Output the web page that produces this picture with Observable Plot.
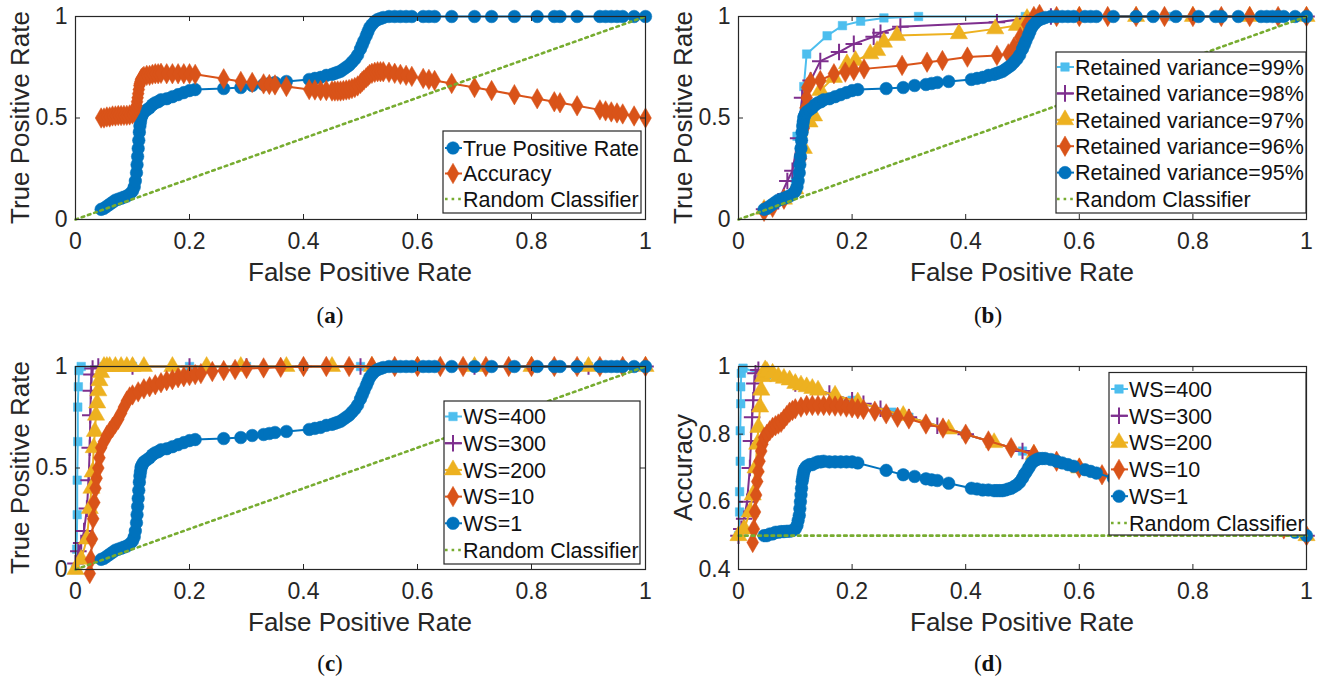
<!DOCTYPE html>
<html>
<head>
<meta charset="utf-8">
<script src="https://cdn.jsdelivr.net/npm/d3@7"></script>
<script src="https://cdn.jsdelivr.net/npm/@observablehq/plot@0.6"></script>
<style>
  html, body { margin: 0; padding: 0; background: #fff; }
  #root { position: relative; width: 1317px; height: 679px; overflow: hidden; }
  .panel { position: absolute; }
  .cap { position: absolute; font-family: "Liberation Serif", "DejaVu Serif", serif; font-size: 23px; color: #111; transform: translate(-50%, -50%); }
  .cap b { font-weight: bold; }
</style>
</head>
<body>
<div id="root"></div>
<script>
// ---------- tick labels ----------
const xTickVals = [0, 0.2, 0.4, 0.6, 0.8, 1];
const yTicksROC = [0, 0.5, 1];
const yTicksAcc = [0.4, 0.6, 0.8, 1];

// ---------- WS=1 / 95% ROC (FPR, TPR) ----------
const rocWS1 = [[0.045,0.05],[0.05,0.055],[0.055,0.065],[0.06,0.075],[0.065,0.085],[0.07,0.095],[0.075,0.1],[0.08,0.105],[0.085,0.11],[0.09,0.115],[0.095,0.125],[0.1,0.14],[0.103,0.16],[0.105,0.19],[0.107,0.23],[0.108,0.27],[0.109,0.31],[0.11,0.35],[0.111,0.39],[0.112,0.43],[0.113,0.46],[0.114,0.48],[0.115,0.5],[0.116,0.51],[0.118,0.52],[0.12,0.53],[0.125,0.54],[0.13,0.55],[0.135,0.565],[0.14,0.575],[0.145,0.58],[0.15,0.59],[0.16,0.595],[0.17,0.605],[0.18,0.615],[0.19,0.625],[0.2,0.635],[0.21,0.64],[0.26,0.645],[0.29,0.65],[0.31,0.66],[0.33,0.665],[0.34,0.67],[0.35,0.675],[0.37,0.68],[0.41,0.69],[0.42,0.695],[0.43,0.7],[0.44,0.71],[0.45,0.715],[0.455,0.72],[0.46,0.725],[0.465,0.73],[0.47,0.74],[0.475,0.75],[0.48,0.76],[0.485,0.775],[0.49,0.79],[0.495,0.81],[0.5,0.84],[0.503,0.86],[0.506,0.88],[0.51,0.905],[0.513,0.925],[0.516,0.945],[0.52,0.96],[0.525,0.975],[0.53,0.985],[0.535,0.99],[0.54,0.995],[0.55,1],[0.56,1],[0.57,1],[0.58,1],[0.59,1],[0.61,1],[0.62,1],[0.63,1],[0.66,1],[0.7,1],[0.73,1],[0.77,1],[0.81,1],[0.84,1],[0.85,1],[0.88,1],[0.92,1],[0.93,1],[0.94,1],[0.95,1],[0.96,1],[0.98,1],[1,1]];

// ---------- WS=1 accuracy (FPR, accuracy) ----------
const accWS1 = [[0.045,0.5],[0.05,0.5],[0.055,0.505],[0.06,0.505],[0.065,0.51],[0.07,0.51],[0.075,0.512],[0.08,0.512],[0.085,0.513],[0.09,0.513],[0.095,0.515],[0.1,0.52],[0.103,0.53],[0.105,0.545],[0.107,0.56],[0.108,0.58],[0.109,0.6],[0.11,0.62],[0.111,0.64],[0.112,0.66],[0.113,0.67],[0.114,0.68],[0.115,0.69],[0.116,0.695],[0.118,0.7],[0.12,0.705],[0.125,0.71],[0.13,0.71],[0.135,0.715],[0.14,0.718],[0.145,0.718],[0.15,0.72],[0.16,0.718],[0.17,0.718],[0.18,0.718],[0.19,0.718],[0.2,0.718],[0.21,0.715],[0.26,0.693],[0.29,0.68],[0.31,0.675],[0.33,0.668],[0.34,0.665],[0.35,0.663],[0.37,0.655],[0.41,0.64],[0.42,0.638],[0.43,0.635],[0.44,0.635],[0.45,0.633],[0.455,0.633],[0.46,0.633],[0.465,0.633],[0.47,0.635],[0.475,0.638],[0.48,0.64],[0.485,0.645],[0.49,0.65],[0.495,0.658],[0.5,0.67],[0.503,0.68],[0.506,0.687],[0.51,0.698],[0.513,0.706],[0.516,0.715],[0.52,0.72],[0.525,0.725],[0.53,0.728],[0.535,0.728],[0.54,0.728],[0.55,0.725],[0.56,0.72],[0.57,0.715],[0.58,0.71],[0.59,0.705],[0.61,0.695],[0.62,0.69],[0.63,0.685],[0.66,0.67],[0.7,0.65],[0.73,0.635],[0.77,0.615],[0.81,0.595],[0.84,0.58],[0.85,0.575],[0.88,0.56],[0.92,0.54],[0.93,0.535],[0.94,0.53],[0.95,0.525],[0.96,0.52],[0.98,0.51],[1,0.5]];

// ---------- (b) retained variance ROC ----------
const rv99 = [[0.045,0.05],[0.07,0.09],[0.09,0.12],[0.1,0.2],[0.103,0.41],[0.115,0.655],[0.12,0.815],[0.156,0.905],[0.183,0.955],[0.215,0.977],[0.256,0.993],[0.317,1],[0.505,1],[0.6,1],[0.7,1],[0.76,1],[0.85,1],[0.92,1],[1,1]];
const rv98 = [[0.045,0.05],[0.07,0.09],[0.086,0.19],[0.095,0.24],[0.105,0.4],[0.112,0.6],[0.127,0.685],[0.144,0.78],[0.177,0.825],[0.203,0.865],[0.238,0.9],[0.25,0.92],[0.285,0.95],[0.455,0.972],[0.508,0.99],[0.55,1],[0.65,1],[0.75,1],[0.85,1],[1,1]];
const rv97 = [[0.045,0.05],[0.08,0.1],[0.1,0.15],[0.115,0.35],[0.125,0.48],[0.133,0.51],[0.144,0.635],[0.168,0.7],[0.191,0.767],[0.206,0.783],[0.232,0.816],[0.244,0.832],[0.256,0.873],[0.279,0.906],[0.388,0.915],[0.452,0.939],[0.49,0.956],[0.508,0.99],[0.53,1],[0.6,1],[0.7,1],[0.8,1],[0.9,1],[1,1]];
const rv96 = [[0.045,0.04],[0.06,0.06],[0.08,0.1],[0.1,0.15],[0.11,0.3],[0.115,0.45],[0.118,0.55],[0.12,0.6],[0.121,0.65],[0.127,0.677],[0.144,0.685],[0.168,0.718],[0.188,0.726],[0.203,0.734],[0.221,0.742],[0.288,0.759],[0.332,0.775],[0.359,0.783],[0.403,0.8],[0.455,0.808],[0.475,0.816],[0.485,0.849],[0.496,0.898],[0.508,0.96],[0.52,1],[0.53,1.01],[0.56,1],[0.6,1],[0.65,1],[0.7,1],[0.75,1],[0.8,1],[0.85,1],[0.9,1],[0.95,1],[1,1]];

// ---------- (c) window size ROC ----------
const ws400 = [[0,0],[0.002,0.1],[0.003,0.27],[0.003,0.44],[0.004,0.63],[0.004,0.8],[0.005,0.9],[0.006,0.98],[0.01,1],[0.05,1],[0.1,1],[0.2,1],[0.3,1],[0.4,1],[0.5,1],[0.6,1],[0.7,1],[0.8,1],[0.9,1],[1,1]];
const ws300 = [[0,0.03],[0.005,0.09],[0.01,0.13],[0.015,0.19],[0.02,0.3],[0.023,0.44],[0.025,0.6],[0.026,0.76],[0.027,0.88],[0.028,0.96],[0.03,0.99],[0.04,1],[0.1,1],[0.2,1],[0.3,1],[0.4,1],[0.5,1],[0.6,1],[0.7,1],[0.8,1],[0.9,1],[1,1]];
const ws200 = [[0,0],[0.01,0.05],[0.02,0.15],[0.025,0.3],[0.028,0.4],[0.03,0.48],[0.032,0.6],[0.034,0.68],[0.036,0.76],[0.038,0.82],[0.04,0.88],[0.042,0.93],[0.045,0.97],[0.05,1],[0.055,1],[0.06,1],[0.07,1],[0.08,1],[0.09,1],[0.1,1],[0.12,1],[0.17,1],[0.23,1],[0.29,1],[0.37,1],[0.45,1],[0.52,1],[0.6,1],[0.7,1],[0.8,1],[0.9,1],[1,1]];
const ws10 = [[0.025,-0.02],[0.027,0.05],[0.029,0.15],[0.031,0.25],[0.033,0.33],[0.035,0.4],[0.037,0.45],[0.04,0.5],[0.042,0.55],[0.045,0.6],[0.05,0.63],[0.055,0.66],[0.06,0.68],[0.065,0.7],[0.07,0.72],[0.075,0.74],[0.08,0.77],[0.085,0.8],[0.09,0.83],[0.095,0.85],[0.1,0.86],[0.11,0.875],[0.12,0.89],[0.13,0.9],[0.14,0.91],[0.15,0.92],[0.16,0.93],[0.17,0.935],[0.18,0.945],[0.19,0.95],[0.2,0.955],[0.21,0.96],[0.22,0.965],[0.24,0.975],[0.26,0.98],[0.28,0.985],[0.3,0.99],[0.33,0.993],[0.36,0.996],[0.4,1],[0.44,1],[0.48,1],[0.52,1],[0.56,1],[0.6,1],[0.64,1],[0.68,1],[0.72,1],[0.76,1],[0.8,1],[0.84,1],[0.88,1],[0.92,1],[0.96,1],[1,1]];

// ---------- (d) window size accuracy ----------
const acc400 = [[0,0.5],[0.002,0.57],[0.002,0.63],[0.003,0.72],[0.003,0.81],[0.004,0.89],[0.004,0.94],[0.005,0.98],[0.008,0.995],[0.05,0.975],[0.1,0.95],[0.2,0.9],[0.27,0.865],[0.3,0.85],[0.4,0.8],[0.5,0.75],[0.6,0.7],[0.7,0.65],[0.8,0.6],[0.9,0.55],[1,0.5]];
const acc300 = [[0,0.5],[0.005,0.52],[0.01,0.55],[0.015,0.6],[0.02,0.7],[0.022,0.78],[0.024,0.85],[0.026,0.9],[0.028,0.95],[0.03,0.98],[0.035,0.99],[0.1,0.95],[0.16,0.92],[0.2,0.9],[0.22,0.89],[0.25,0.875],[0.3,0.85],[0.35,0.825],[0.4,0.8],[0.5,0.75],[0.6,0.7],[0.7,0.65],[0.8,0.6],[0.9,0.55],[1,0.5]];
const acc200 = [[0,0.5],[0.01,0.52],[0.02,0.57],[0.025,0.62],[0.03,0.7],[0.033,0.77],[0.035,0.82],[0.038,0.88],[0.04,0.93],[0.043,0.97],[0.047,0.99],[0.05,0.985],[0.06,0.98],[0.07,0.97],[0.08,0.965],[0.09,0.96],[0.1,0.95],[0.11,0.945],[0.12,0.94],[0.13,0.935],[0.14,0.93],[0.17,0.915],[0.21,0.895],[0.29,0.855],[0.37,0.815],[0.45,0.775],[0.52,0.74],[0.6,0.7],[0.7,0.65],[0.8,0.6],[0.9,0.55],[1,0.5]];
const acc10 = [[0.025,0.48],[0.027,0.52],[0.029,0.57],[0.031,0.62],[0.033,0.66],[0.035,0.69],[0.037,0.72],[0.04,0.75],[0.042,0.77],[0.045,0.79],[0.05,0.8],[0.055,0.81],[0.06,0.82],[0.065,0.825],[0.07,0.83],[0.075,0.835],[0.08,0.845],[0.085,0.855],[0.09,0.865],[0.095,0.87],[0.1,0.875],[0.11,0.88],[0.12,0.885],[0.13,0.885],[0.14,0.885],[0.15,0.885],[0.16,0.885],[0.17,0.883],[0.18,0.883],[0.19,0.88],[0.2,0.878],[0.21,0.875],[0.22,0.873],[0.24,0.868],[0.26,0.86],[0.28,0.85],[0.3,0.845],[0.33,0.83],[0.36,0.818],[0.4,0.8],[0.44,0.78],[0.48,0.76],[0.52,0.74],[0.56,0.72],[0.6,0.7],[0.64,0.68],[0.68,0.66],[0.72,0.64],[0.76,0.62],[0.8,0.6],[0.84,0.58],[0.88,0.56],[0.92,0.54],[0.96,0.52],[1,0.5]];

// ---------- chance lines ----------
const randomROC = [[0,0],[1,1]];
const randomAcc = [[0,0.5],[1,0.5]];

// ---------- legend labels ----------
const labelsA = ["True Positive Rate", "Accuracy", "Random Classifier"];
const labelsB = ["Retained variance=99%", "Retained variance=98%", "Retained variance=97%", "Retained variance=96%", "Retained variance=95%", "Random Classifier"];
const labelsWS = ["WS=400", "WS=300", "WS=200", "WS=10", "WS=1", "Random Classifier"];

// ---------- styles ----------
const C = {blue:"#0072BD", orange:"#D95319", yellow:"#EDB120", purple:"#7E2F8E", green:"#77AC30", cyan:"#4DBEEE"};
const ST = {
  circle:   {color: C.blue,   symbol: "circle",   r: 6.3},
  diamond:  {color: C.orange, symbol: "diamond",  r: 6.2},
  triangle: {color: C.yellow, symbol: "triangle", r: 6.4},
  plus:     {color: C.purple, symbol: "plus",     r: 5.4},
  square:   {color: C.cyan,   symbol: "square",   r: 4.8},
};
const d3Sym = {circle: d3.symbolCircle, diamond: d3.symbolDiamond, triangle: d3.symbolTriangle, plus: d3.symbolPlus, square: d3.symbolSquare};
const FONT = "'Liberation Sans', Arial, Helvetica, sans-serif";
const AXC = "#262626";
const DASH = "2.6 4";

function panel(cfg) {
  const {left, top, width, height, mL, mR, mT, mB, yDomain, yTicks, yLabel, series, chance, legend, caption} = cfg;
  const plotW = width - mL - mR, plotH = height - mT - mB;
  const marks = [];
  for (const s of series) {
    const st = ST[s.style];
    marks.push(Plot.line(s.data, {x: d => d[0], y: d => d[1], stroke: st.color, strokeWidth: 2}));
    if (st.symbol === "plus") {
      marks.push(Plot.dot(s.data, {x: d => d[0], y: d => d[1], symbol: "plus", stroke: st.color, strokeWidth: 2, fill: "none", r: st.r}));
    } else {
      marks.push(Plot.dot(s.data, {x: d => d[0], y: d => d[1], symbol: st.symbol, fill: st.color, stroke: st.color, strokeWidth: 0.5, r: st.r}));
    }
  }
  marks.push(Plot.line(chance, {x: d => d[0], y: d => d[1], stroke: C.green, strokeWidth: 2.6, strokeDasharray: DASH}));
  // inward ticks on all four sides (MATLAB box style)
  marks.push(Plot.tickX(xTickVals, {x: d => d, stroke: AXC, insetTop: plotH - 5}));
  marks.push(Plot.tickX(xTickVals, {x: d => d, stroke: AXC, insetBottom: plotH - 5}));
  marks.push(Plot.tickY(yTicks, {y: d => d, stroke: AXC, insetLeft: plotW - 5}));
  marks.push(Plot.tickY(yTicks, {y: d => d, stroke: AXC, insetRight: plotW - 5}));
  marks.push(Plot.frame({stroke: AXC, strokeWidth: 1.2}));

  const svg = Plot.plot({
    width, height, marginLeft: mL, marginRight: mR, marginTop: mT, marginBottom: mB,
    style: {fontFamily: FONT, fontSize: "23px", color: AXC, background: "transparent", overflow: "visible"},
    x: {domain: [0, 1], ticks: xTickVals, tickSize: 0, tickPadding: 13, tickFormat: d => String(d), label: null},
    y: {domain: yDomain, ticks: yTicks, tickSize: 0, tickPadding: 8, tickFormat: d => String(d), label: null},
    marks
  });

  const g = d3.select(svg).append("g").attr("font-family", FONT).attr("fill", AXC);
  // axis titles
  g.append("text").attr("x", mL + plotW / 2).attr("y", mT + plotH + 53)
    .attr("text-anchor", "middle").attr("dy", "0.36em").attr("font-size", 26).text("False Positive Rate");
  g.append("text").attr("transform", `translate(${mL - 55},${mT + plotH / 2}) rotate(-90)`)
    .attr("text-anchor", "middle").attr("dy", "0.36em").attr("font-size", 26).text(yLabel);

  // legend
  const L = legend;
  const lg = d3.select(svg).append("g");
  lg.append("rect").attr("x", L.x).attr("y", L.y).attr("width", L.w).attr("height", L.h)
    .attr("fill", "#fff").attr("stroke", AXC).attr("stroke-width", 1.2);
  L.items.forEach((it, i) => {
    const cy = L.y0 + i * L.dy;
    if (it.style === "dotted") {
      lg.append("line").attr("x1", L.mx - 8).attr("x2", L.mx + 9).attr("y1", cy).attr("y2", cy)
        .attr("stroke", C.green).attr("stroke-width", 2.6).attr("stroke-dasharray", DASH);
    } else {
      const st = ST[it.style];
      lg.append("line").attr("x1", L.mx - 8).attr("x2", L.mx + 9).attr("y1", cy).attr("y2", cy)
        .attr("stroke", st.color).attr("stroke-width", 2);
      const p = d3.symbol(d3Sym[st.symbol], Math.PI * st.r * st.r)();
      const path = lg.append("path").attr("d", p).attr("transform", `translate(${L.mx},${cy})`);
      if (st.symbol === "plus") path.attr("fill", "none").attr("stroke", st.color).attr("stroke-width", 2);
      else path.attr("fill", st.color).attr("stroke", st.color).attr("stroke-width", 0.5);
    }
    lg.append("text").attr("x", L.tx).attr("y", cy).attr("dy", "0.36em").attr("text-anchor", "start")
      .attr("font-family", FONT).attr("font-size", 21.5).attr("fill", "#111").text(it.label);
  });

  const div = document.createElement("div");
  div.className = "panel";
  div.style.left = left + "px";
  div.style.top = top + "px";
  div.appendChild(svg);
  document.getElementById("root").appendChild(div);

  const cap = document.createElement("div");
  cap.className = "cap";
  cap.style.left = caption.x + "px";
  cap.style.top = caption.y + "px";
  cap.innerHTML = `(<b>${caption.t}</b>)`;
  document.getElementById("root").appendChild(cap);
}

const leftGeom = {width: 660, height: 300, mL: 75, mR: 15, mT: 16, mB: 81};
const rightGeom = {width: 657, height: 300, mL: 78, mR: 11, mT: 16, mB: 81};

panel({
  left: 0, top: 0, ...leftGeom, yDomain: [0, 1], yTicks: yTicksROC, yLabel: "True Positive Rate",
  series: [{data: rocWS1, style: "circle"}, {data: accWS1, style: "diamond"}],
  chance: randomROC,
  legend: {x: 443, y: 131, w: 198, h: 82, y0: 148, dy: 25.5, mx: 453, tx: 463,
    items: [{label: labelsA[0], style: "circle"}, {label: labelsA[1], style: "diamond"}, {label: labelsA[2], style: "dotted"}]},
  caption: {x: 330, y: 316, t: "a"}
});

panel({
  left: 660, top: 0, ...rightGeom, yDomain: [0, 1], yTicks: yTicksROC, yLabel: "True Positive Rate",
  series: [{data: rv99, style: "square"}, {data: rv98, style: "plus"}, {data: rv97, style: "triangle"}, {data: rv96, style: "diamond"}, {data: rocWS1, style: "circle"}],
  chance: randomROC,
  legend: {x: 396, y: 52, w: 250, h: 161, y0: 67, dy: 26.4, mx: 405, tx: 415,
    items: [{label: labelsB[0], style: "square"}, {label: labelsB[1], style: "plus"}, {label: labelsB[2], style: "triangle"}, {label: labelsB[3], style: "diamond"}, {label: labelsB[4], style: "circle"}, {label: labelsB[5], style: "dotted"}]},
  caption: {x: 988, y: 316, t: "b"}
});

panel({
  left: 0, top: 350, ...leftGeom, yDomain: [0, 1], yTicks: yTicksROC, yLabel: "True Positive Rate",
  series: [{data: ws400, style: "square"}, {data: ws300, style: "plus"}, {data: ws200, style: "triangle"}, {data: ws10, style: "diamond"}, {data: rocWS1, style: "circle"}],
  chance: randomROC,
  legend: {x: 444, y: 51, w: 196, h: 163, y0: 66.5, dy: 26.7, mx: 453, tx: 463,
    items: [{label: labelsWS[0], style: "square"}, {label: labelsWS[1], style: "plus"}, {label: labelsWS[2], style: "triangle"}, {label: labelsWS[3], style: "diamond"}, {label: labelsWS[4], style: "circle"}, {label: labelsWS[5], style: "dotted"}]},
  caption: {x: 330, y: 664, t: "c"}
});

panel({
  left: 660, top: 350, ...rightGeom, yDomain: [0.4, 1], yTicks: yTicksAcc, yLabel: "Accuracy",
  series: [{data: acc400, style: "square"}, {data: acc300, style: "plus"}, {data: acc200, style: "triangle"}, {data: acc10, style: "diamond"}, {data: accWS1, style: "circle"}],
  chance: randomAcc,
  legend: {x: 449, y: 22.5, w: 197, h: 162.5, y0: 39, dy: 26.8, mx: 459, tx: 469,
    items: [{label: labelsWS[0], style: "square"}, {label: labelsWS[1], style: "plus"}, {label: labelsWS[2], style: "triangle"}, {label: labelsWS[3], style: "diamond"}, {label: labelsWS[4], style: "circle"}, {label: labelsWS[5], style: "dotted"}]},
  caption: {x: 988, y: 664, t: "d"}
});
</script>
</body>
</html>
